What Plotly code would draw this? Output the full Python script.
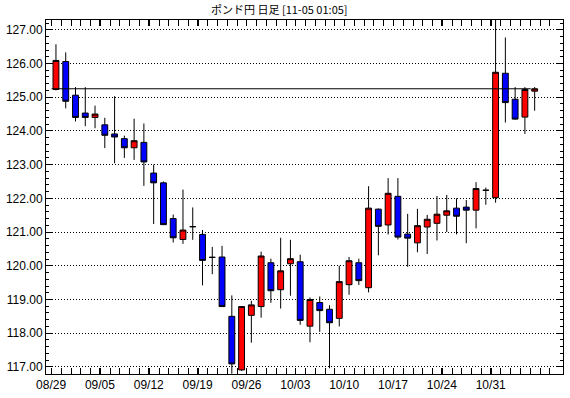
import plotly.graph_objects as go

title_text = "ポンド円 日足 [11-05 01:05]"

dates = ["08/29", "08/30", "08/31", "09/01", "09/02",
         "09/05", "09/06", "09/07", "09/08", "09/09",
         "09/12", "09/13", "09/14", "09/15", "09/16",
         "09/19", "09/20", "09/21", "09/22", "09/23",
         "09/26", "09/27", "09/28", "09/29", "09/30",
         "10/03", "10/04", "10/05", "10/06", "10/07",
         "10/10", "10/11", "10/12", "10/13", "10/14",
         "10/17", "10/18", "10/19", "10/20", "10/21",
         "10/24", "10/25", "10/26", "10/27", "10/28",
         "10/31", "11/01", "11/02", "11/03", "11/04"]

open_ = [125.23, 126.06, 125.06, 124.53, 124.40, 124.18, 123.91, 123.77, 123.50, 123.66,
         122.75, 122.46, 121.40, 120.78, 121.16, 120.93, 120.25, 120.26, 118.50, 116.91,
         118.53, 118.79, 120.09, 119.29, 120.06, 120.12, 118.21, 118.91, 118.71, 118.44,
         119.44, 120.09, 119.35, 121.68, 121.21, 122.06, 120.94, 120.68, 121.15, 121.26,
         121.50, 121.71, 121.74, 121.65, 122.24, 122.02, 125.71, 124.94, 124.41, 125.18]
high = [126.57, 126.33, 125.30, 125.30, 124.75, 124.39, 125.03, 123.86, 124.36, 124.22,
        123.00, 122.50, 121.52, 122.26, 121.73, 121.06, 120.56, 120.59, 119.12, 118.80,
        118.96, 120.42, 120.21, 120.83, 120.77, 120.33, 119.06, 119.09, 118.83, 120.00,
        120.26, 120.21, 122.36, 121.70, 122.60, 122.60, 121.54, 121.69, 121.51, 122.07,
        122.10, 122.00, 121.95, 122.48, 122.32, 127.50, 126.77, 125.30, 125.30, 125.30]
low = [125.20, 124.67, 124.28, 124.14, 124.08, 123.49, 123.04, 123.20, 123.14, 122.37,
       121.24, 121.21, 120.69, 120.65, 120.77, 119.42, 119.75, 118.78, 116.80, 116.88,
       117.72, 118.46, 118.90, 118.73, 119.11, 118.25, 117.73, 118.04, 116.96, 118.20,
       119.14, 119.43, 119.21, 120.31, 120.93, 120.78, 119.97, 120.40, 120.35, 120.75,
       121.00, 120.93, 120.67, 121.11, 121.81, 121.87, 124.25, 124.33, 123.91, 124.60]
close = [126.09, 124.88, 124.40, 124.40, 124.50, 123.87, 123.82, 123.50, 123.71, 123.08,
         122.46, 121.22, 120.83, 121.06, 121.16, 120.16, 120.25, 118.79, 117.09, 118.79,
         118.84, 120.29, 119.26, 119.85, 120.21, 118.38, 119.00, 118.67, 118.31, 119.53,
         120.15, 119.56, 121.71, 121.17, 122.15, 120.85, 120.82, 121.19, 121.38, 121.53,
         121.63, 121.47, 121.65, 122.29, 122.24, 125.74, 124.84, 124.35, 125.23, 125.25]

week_labels = ["08/29", "09/05", "09/12", "09/19", "09/26",
               "10/03", "10/10", "10/17", "10/24", "10/31"]

y_ticks = [117, 118, 119, 120, 121, 122, 123, 124, 125, 126, 127]
ref_price = close[-1]

xs = list(range(len(dates)))
label_pos = [dates.index(w) - 0.5 for w in week_labels]
minor_pos = [i - 0.45 for i in range(-1, len(dates) + 2)]

fig = go.Figure()
fig.add_trace(go.Candlestick(
    x=xs, open=open_, high=high, low=low, close=close,
    increasing=dict(line=dict(color="black", width=1), fillcolor="#ff0000"),
    decreasing=dict(line=dict(color="black", width=1), fillcolor="#0000ff"),
    whiskerwidth=0, showlegend=False, hoverinfo="skip",
))

fig.add_shape(type="line", xref="x", yref="y", x0=-0.45, x1=48.6,
              y0=ref_price, y1=ref_price, line=dict(color="black", width=1))

fig.update_layout(
    width=570, height=398,
    margin=dict(l=45, r=6, t=20, b=21),
    paper_bgcolor="white", plot_bgcolor="white",
    boxgap=0.4, boxgroupgap=0,
    title=dict(text=title_text, x=0.49, xref="container", y=0.985, yanchor="top",
               font=dict(family="Noto Sans CJK JP", size=11, color="black")),
    font=dict(family="Liberation Sans Narrow, Arial Narrow, Liberation Sans, sans-serif",
              size=12, color="black"),
    xaxis=dict(
        range=[-1.02, 51.9], rangeslider=dict(visible=False),
        tickmode="array", tickvals=label_pos, ticktext=week_labels,
        ticks="inside", ticklen=6, tickcolor="black",
        showgrid=False, zeroline=False,
        showline=True, linecolor="black", linewidth=1, mirror="allticks",
        minor=dict(tickmode="array", tickvals=minor_pos, ticks="inside",
                   ticklen=6, tickcolor="black", showgrid=False),
    ),
    yaxis=dict(
        range=[116.79, 127.29],
        tickmode="array", tickvals=y_ticks,
        ticktext=[f"{v:.2f}" for v in y_ticks],
        ticks="inside", ticklen=6, tickcolor="black",
        showgrid=True, gridcolor="black", griddash="1px,2px", gridwidth=1,
        zeroline=False,
        showline=True, linecolor="black", linewidth=1, mirror="allticks",
        minor=dict(dtick=0.2, tick0=117, ticks="inside", ticklen=3,
                   tickcolor="black", showgrid=False),
    ),
)

fig.write_html("out.html")
